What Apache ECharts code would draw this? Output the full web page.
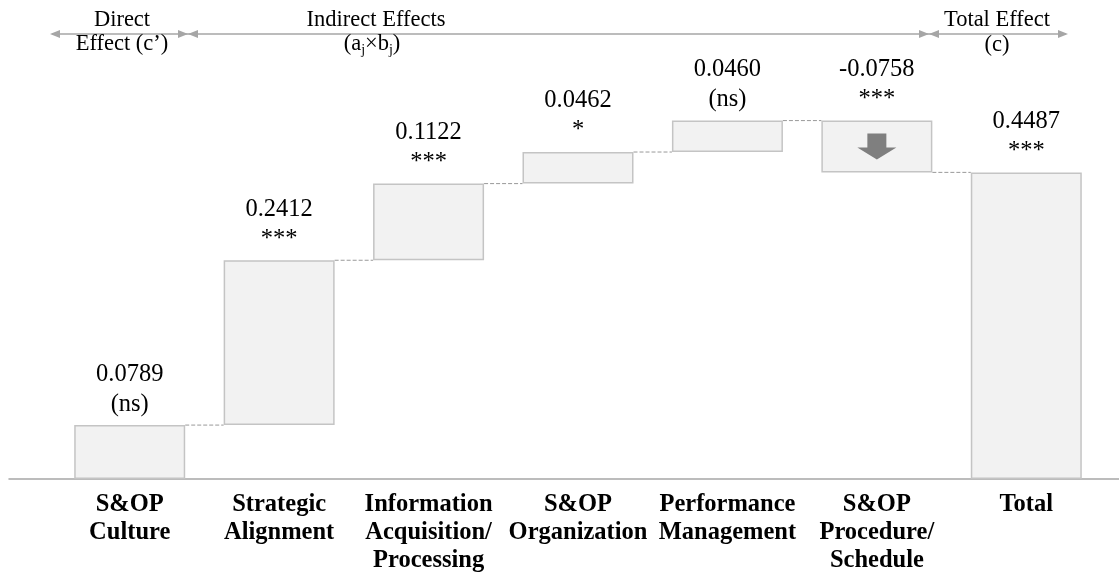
<!DOCTYPE html>
<html style="height: 100%">
<head>
<meta charset="utf-8">
</head>
<body style="width: 100%; height: 100%; margin:0 auto;">
<div id="container" style="width: 1119px; height: 574px"></div>
<script type="text/javascript" src="https://cdn.jsdelivr.net/npm/echarts@6/dist/echarts.min.js"></script>
<script type="text/javascript">
	var categories = ['S&OP\nCulture', 'Strategic\nAlignment', 'Information\nAcquisition/\nProcessing',
		'S&OP\nOrganization', 'Performance\nManagement', 'S&OP\nProcedure/\nSchedule', 'Total'];
	var effects = [0.0789, 0.2412, 0.1122, 0.0462, 0.0460, -0.0758, 0.4487];
	var signif = ['(ns)', '***', '***', '*', '(ns)', '***', '***'];

	// waterfall: invisible base + visible box, last one is the total from 0
	var base = [], box = [], level = [];
	var cum = 0;
	for (var i = 0; i < effects.length; i++) {
		if (i == effects.length - 1) {
			base.push(0);
			box.push(effects[i]);
		} else {
			var next = cum + effects[i];
			base.push(Math.min(cum, next));
			box.push(Math.abs(effects[i]));
			cum = next;
			level.push([i, cum]);
		}
	}
	var arrowIdx = 5;
	var arrowPoint = [[arrowIdx, base[arrowIdx] + box[arrowIdx] / 2]];

	var serif = 'Liberation Serif, Times New Roman, serif';
	var grey = '#a6a6a6';
	var BAR_W = 111;

	function tri(tipX, y, dir) {
		// dir -1 points left, 1 points right
		return {
			type: 'polygon',
			shape: { points: [[tipX, y], [tipX - dir * 10, y - 4], [tipX - dir * 10, y + 4]] },
			style: { fill: grey }
		};
	}
	function hline(x1, x2, y) {
		return {
			type: 'line',
			shape: { x1: x1, y1: y, x2: x2, y2: y },
			style: { stroke: grey, lineWidth: 1.5 }
		};
	}
	function txt(x, y, s, rich) {
		return {
			type: 'text',
			x: x, y: y,
			style: {
				text: s, fill: '#000', font: '22.5px ' + serif,
				align: 'center', verticalAlign: 'middle', rich: rich
			}
		};
	}

	var dom = document.getElementById("container");
	var myChart = echarts.init(dom);
	var option = {
		animation: false,
		grid: [
			{ left: 55, right: 18, top: 69, bottom: 95, containLabel: false, outerBoundsMode: 'none' },
			{ left: 9, right: 0, top: 69, bottom: 95, containLabel: false, outerBoundsMode: 'none' }
		],
		xAxis: [
			{
				type: 'category',
				data: categories,
				axisLine: { show: false },
				axisTick: { show: false },
				axisLabel: {
					margin: 12,
					fontFamily: serif,
					fontWeight: 'bold',
					fontSize: 24.5,
					lineHeight: 28,
					color: '#000',
					interval: 0
				}
			},
			{
				type: 'value',
				gridIndex: 1,
				min: 0, max: 1,
				axisLine: { show: true, lineStyle: { color: grey, width: 1.5 } },
				axisTick: { show: false },
				axisLabel: { show: false },
				splitLine: { show: false }
			}
		],
		yAxis: [
			{ type: 'value', min: 0, max: 0.6, show: false },
			{ type: 'value', gridIndex: 1, min: 0, max: 0.6, show: false }
		],
		series: [
			{
				type: 'bar',
				stack: 'w',
				data: base,
				barWidth: BAR_W,
				itemStyle: { color: 'transparent' },
				silent: true
			},
			{
				type: 'bar',
				stack: 'w',
				data: box,
				barWidth: BAR_W,
				itemStyle: { color: '#f2f2f2', borderColor: '#c4c4c4', borderWidth: 1.5 },
				label: {
					show: true,
					position: 'top',
					distance: 6,
					fontFamily: serif,
					fontSize: 24.5,
					lineHeight: 30,
					color: '#000',
					formatter: function (p) {
						return effects[p.dataIndex].toFixed(4) + '\n' + signif[p.dataIndex];
					}
				}
			},
			{
				type: 'custom',
				data: level,
				renderItem: function (params, api) {
					var a = api.coord([api.value(0), api.value(1)]);
					var b = api.coord([api.value(0) + 1, api.value(1)]);
					return {
						type: 'line',
						shape: { x1: a[0] + BAR_W / 2, y1: a[1], x2: b[0] - BAR_W / 2, y2: b[1] },
						style: { stroke: '#999', lineWidth: 1, lineDash: [4, 2] }
					};
				},
				silent: true
			},
			{
				type: 'scatter',
				data: arrowPoint,
				symbol: 'path://M10,0L29,0L29,14L39,14L19.5,26L0,14L10,14Z',
				symbolSize: [39, 26],
				itemStyle: { color: '#7f7f7f', opacity: 1 },
				silent: true,
				z: 5
			}
		],
		graphic: [
			hline(52, 188, 34), hline(188, 929, 34), hline(929, 1066, 34),
			tri(50, 34, -1), tri(188, 34, 1), tri(188, 34, -1),
			tri(929, 34, 1), tri(929, 34, -1), tri(1068, 34, 1),
			txt(122, 20, 'Direct'),
			txt(122, 44, 'Effect (c\u2019)'),
			txt(376, 20, 'Indirect Effects'),
			txt(372, 44, '(a{sub|j}\u00d7b{sub|j})', {
				sub: { fontSize: 14, fontFamily: serif, padding: [12, 0, 0, 0] }
			}),
			txt(997, 20, 'Total Effect'),
			txt(997, 45, '(c)')
		]
	};
	myChart.setOption(option);
</script>
</body>
</html>
